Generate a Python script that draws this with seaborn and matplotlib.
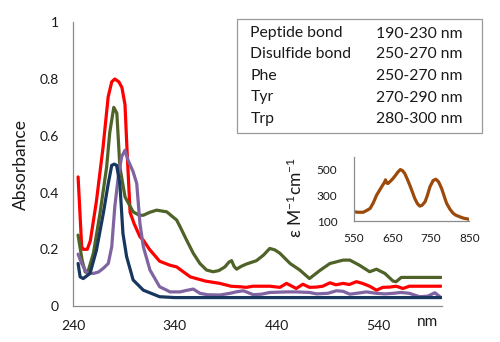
import numpy as np
import pandas as pd
import matplotlib
matplotlib.use("Agg")
import matplotlib.pyplot as plt
import seaborn as sns
from matplotlib.patches import Rectangle
from matplotlib.ticker import FuncFormatter

# ---------------- data ----------------
red_nm = [245, 248.5, 250, 254, 257, 263, 269.5, 274.5, 278, 281, 285, 288, 291, 293, 296, 300,
          305.7, 309, 315, 325, 335, 341.7, 355, 370, 384, 395, 404, 410, 416.5, 425, 433, 443,
          449.5, 459, 465.5, 472, 479, 485, 492, 498, 505, 511, 518, 524, 531, 537.7, 544, 551,
          557, 563.7, 570, 601]
red_abs = [0.455, 0.21, 0.20, 0.20, 0.23, 0.37, 0.56, 0.737, 0.79, 0.80, 0.79, 0.77, 0.71, 0.55,
           0.33, 0.29, 0.244, 0.232, 0.20, 0.158, 0.144, 0.138, 0.103, 0.088, 0.08, 0.07, 0.068,
           0.066, 0.07, 0.07, 0.07, 0.066, 0.08, 0.062, 0.077, 0.066, 0.067, 0.07, 0.082, 0.075,
           0.08, 0.076, 0.086, 0.08, 0.07, 0.056, 0.066, 0.067, 0.07, 0.062, 0.07, 0.07]

green_nm = [245, 249, 252, 255, 260, 266.5, 273, 276, 280, 283, 286, 291, 299, 305, 309, 315, 322,
            332, 341.7, 345, 351.5, 358, 364.5, 371, 377.5, 383, 389, 393, 395.6, 398, 400.5, 405,
            410, 420, 427, 433, 438, 443, 453, 462.5, 472, 482, 492, 505, 511.6, 521, 531, 537.7,
            546, 554, 557, 562, 601]
green_abs = [0.25, 0.16, 0.12, 0.125, 0.186, 0.327, 0.49, 0.61, 0.70, 0.68, 0.49, 0.385, 0.332,
             0.32, 0.32, 0.33, 0.338, 0.332, 0.303, 0.28, 0.232, 0.186, 0.15, 0.127, 0.121, 0.125,
             0.138, 0.155, 0.16, 0.14, 0.13, 0.14, 0.148, 0.16, 0.18, 0.203, 0.198, 0.186, 0.15,
             0.127, 0.097, 0.125, 0.15, 0.162, 0.162, 0.144, 0.121, 0.13, 0.115, 0.088, 0.086,
             0.101, 0.101]

navy_nm = [245, 247, 250, 256.7, 263, 269.7, 274.6, 278, 280.5, 282.8, 286, 289, 292.6, 299, 309,
           325, 340, 360, 450, 530, 601]
navy_abs = [0.15, 0.103, 0.097, 0.115, 0.197, 0.326, 0.432, 0.496, 0.50, 0.496, 0.43, 0.256, 0.174,
            0.092, 0.056, 0.033, 0.03, 0.03, 0.03, 0.03, 0.03]

purple_nm = [245, 248.5, 253.4, 260, 265, 269.7, 274.6, 278, 281, 284.4, 287.7, 291, 294, 299,
             302.5, 305.7, 309, 315.5, 325, 332, 335, 341, 345, 351, 358, 364.5, 372, 384, 394,
             400, 407, 410, 417, 425, 433, 449.5, 459, 472, 479, 490, 498.5, 505, 511.6, 518, 528,
             537.7, 546, 554, 562, 570, 580, 588, 595, 601]
purple_abs = [0.183, 0.15, 0.117, 0.115, 0.12, 0.133, 0.15, 0.209, 0.35, 0.455, 0.526, 0.549,
              0.514, 0.473, 0.432, 0.29, 0.209, 0.127, 0.068, 0.056, 0.05, 0.05, 0.05, 0.055, 0.06,
              0.045, 0.04, 0.039, 0.045, 0.05, 0.054, 0.05, 0.04, 0.042, 0.048, 0.05, 0.05, 0.048,
              0.043, 0.045, 0.054, 0.052, 0.042, 0.045, 0.05, 0.045, 0.043, 0.045, 0.048, 0.045,
              0.033, 0.035, 0.047, 0.03]

inset_nm = [550, 560, 574, 585, 592, 600, 609, 622, 630, 632, 635, 638.5, 645, 651.6, 658, 664.6,
            670.6, 676, 682, 688, 695, 702, 708, 715, 721, 727, 735, 741, 747.6, 756, 763, 770,
            778, 785, 791, 800, 808, 815, 825, 835, 847, 850]
inset_eps = [172, 168, 168, 185, 198, 240, 302, 366, 405, 420, 395, 392, 410, 431, 455, 482, 500,
             492, 470, 430, 380, 325, 276, 235, 216, 222, 250, 300, 366, 415, 425, 405, 353, 290,
             237, 190, 160, 145, 133, 122, 115, 112]

table_names = ["Peptide bond", "Disulfide bond", "Phe", "Tyr", "Trp"]
table_ranges = ["190-230 nm", "250-270 nm", "250-270 nm", "270-290 nm", "280-300 nm"]

main_xticks = [240, 340, 440, 540]
main_yticks = [0, 0.2, 0.4, 0.6, 0.8, 1]
inset_xticks = [550, 650, 750, 850]
inset_yticks = [100, 300, 500]

# ---------------- style ----------------
sns.set_style("white")
plt.rcParams['font.family'] = ['Lato', 'DejaVu Sans']
plt.rcParams['mathtext.fontset'] = 'custom'
plt.rcParams['mathtext.rm'] = 'Lato'
plt.rcParams['mathtext.it'] = 'Lato:italic'
plt.rcParams['mathtext.bf'] = 'Lato:bold'
TXT = "#1a1a1a"
AXC = "#8c8c8c"
LW = 2.3

fig = plt.figure(figsize=(5, 3.42), dpi=100)
ax = fig.add_axes([0.146, 0.105, 0.738, 0.830])

series = [
    (red_nm, red_abs, "#ff0000"),
    (green_nm, green_abs, "#4f6228"),
    (purple_nm, purple_abs, "#8064a2"),
    (navy_nm, navy_abs, "#17375e"),
]
for xs, ys, c in series:
    df = pd.DataFrame({"nm": xs, "A": ys})
    sns.lineplot(data=df, x="nm", y="A", color=c, lw=LW, ax=ax, sort=False)

ax.set_xlim(240, 602)
ax.set_ylim(0, 1)
ax.set_xticks(main_xticks)
ax.set_yticks(main_yticks)
ax.yaxis.set_major_formatter(FuncFormatter(lambda v, p: f"{v:g}"))
ax.set_xlabel("")
ax.set_ylabel("Absorbance", fontsize=12.5, color=TXT, labelpad=8)
for s in ["top", "right"]:
    ax.spines[s].set_visible(False)
for s in ["left", "bottom"]:
    ax.spines[s].set_color(AXC)
    ax.spines[s].set_linewidth(0.9)
ax.tick_params(axis="both", direction="out", length=5, width=0.9, color=AXC,
               labelsize=10, labelcolor=TXT, pad=5)
fig.text(428 / 500, 1 - 322 / 342, "nm", fontsize=11, color=TXT, ha="center", va="center")

# ---------------- table box ----------------
fig.patches.append(Rectangle((237 / 500, 1 - 133 / 342), 245 / 500, 114 / 342,
                             transform=fig.transFigure, fill=True, facecolor="white",
                             edgecolor="#9a9a9a", lw=0.9, zorder=5))
row_y = [33.5, 54.5, 76, 97.5, 118.5]
for name, rng, yy in zip(table_names, table_ranges, row_y):
    fig.text(250.5 / 500, 1 - yy / 342, name, fontsize=11.3, color=TXT, ha="left", va="center", zorder=6)
    fig.text(375.5 / 500, 1 - yy / 342, rng, fontsize=11.3, color=TXT, ha="left", va="center", zorder=6)

# ---------------- inset ----------------
axi = fig.add_axes([354 / 500, 1 - 221 / 342, 115.3 / 500, 64.3 / 342])
axi.patch.set_alpha(0)
dfi = pd.DataFrame({"nm": inset_nm, "eps": inset_eps})
sns.lineplot(data=dfi, x="nm", y="eps", color="#9c4a0c", lw=LW, ax=axi, sort=False)
axi.set_xlim(550, 850)
axi.set_ylim(100, 600)
axi.set_xticks(inset_xticks)
axi.set_yticks(inset_yticks)
axi.set_xlabel("")
axi.set_ylabel("ε M$^{-1}$cm$^{-1}$", fontsize=12.5, color=TXT)
axi.yaxis.set_label_coords(-0.425, 0.36)
for s in ["top", "right"]:
    axi.spines[s].set_visible(False)
for s in ["left", "bottom"]:
    axi.spines[s].set_color(AXC)
    axi.spines[s].set_linewidth(0.9)
axi.tick_params(axis="both", direction="out", length=5, width=0.9, color=AXC,
                labelsize=8.5, labelcolor=TXT, pad=4)
axi.tick_params(axis="y", pad=7)

fig.savefig("out.png", dpi=100)
